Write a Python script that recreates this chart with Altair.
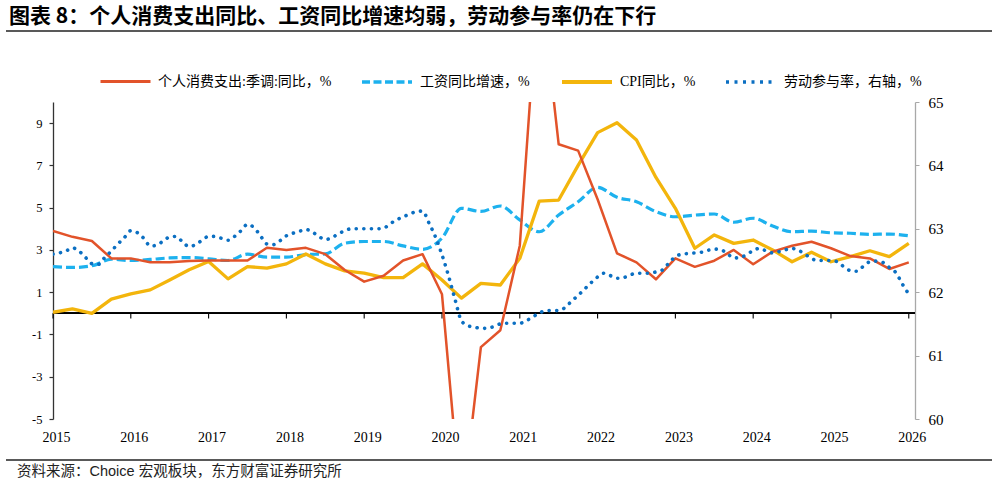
import altair as alt
import pandas as pd

# ---------------- data ----------------
quarter_dates = [f"{y}-{m:02d}" for y in range(2015, 2026) for m in (1, 4, 7, 10)] + ["2026-01"]
month_dates = [f"{y}-{m:02d}" for y in range(2015, 2026) for m in range(1, 13)] + ["2026-01"]

# 个人消费支出:季调:同比，%
pce_yoy = [3.90, 3.62, 3.42, 2.60, 2.60, 2.42, 2.42, 2.48, 2.50, 2.50,
           2.50, 3.10, 3.00, 3.10, 2.80, 2.05, 1.50, 1.78, 2.50, 2.80,
           0.90, -9.5, -1.6, -0.8, 3.2, 16.2, 8.0, 7.7, 5.4, 2.84,
           2.41, 1.61, 2.6, 2.2, 2.49, 3.0, 2.32, 2.92, 3.2, 3.39,
           3.08, 2.71, 2.6, 2.1, 2.41]

# 工资同比增速，%
wage_yoy = [2.21, 2.17, 2.25, 2.56, 2.50, 2.55, 2.62, 2.64, 2.58, 2.50,
            2.80, 2.66, 2.66, 2.78, 2.81, 3.32, 3.40, 3.40, 3.19, 3.03,
            3.56, 4.97, 4.82, 5.08, 4.42, 3.86, 4.65, 5.28, 5.96, 5.49,
            5.28, 4.81, 4.57, 4.65, 4.70, 4.31, 4.50, 4.13, 3.86, 3.89,
            3.81, 3.79, 3.74, 3.75, 3.67]

# CPI同比，%
cpi_yoy = [0.05, 0.21, 0.0, 0.67, 0.92, 1.11, 1.58, 2.06, 2.45, 1.63,
           2.21, 2.14, 2.34, 2.81, 2.34, 2.01, 1.90, 1.69, 1.69, 2.34,
           1.58, 0.72, 1.42, 1.34, 2.60, 5.31, 5.36, 7.0, 8.55, 9.02,
           8.2, 6.43, 4.97, 3.08, 3.71, 3.31, 3.47, 3.0, 2.44, 2.89,
           2.44, 2.68, 2.96, 2.68, 3.31]

# 劳动参与率（右轴），%
lfpr = [62.60, 62.62, 62.65, 62.70, 62.65, 62.55, 62.45, 62.44, 62.55, 62.65, 62.76, 62.86,
        62.97, 62.94, 62.85, 62.73, 62.74, 62.81, 62.87, 62.88, 62.79, 62.72, 62.75, 62.82,
        62.88, 62.88, 62.85, 62.82, 62.88, 62.97, 63.07, 63.02, 62.89, 62.76, 62.75, 62.81,
        62.89, 62.93, 62.96, 62.99, 62.95, 62.88, 62.83, 62.86, 62.92, 62.97, 63.00, 63.00,
        63.00, 63.00, 63.00, 63.01, 63.08, 63.14, 63.19, 63.23, 63.27, 63.28, 63.09, 62.87,
        62.59, 62.26, 61.89, 61.55, 61.47, 61.45, 61.43, 61.43, 61.46, 61.50, 61.51, 61.51,
        61.51, 61.55, 61.61, 61.67, 61.71, 61.71, 61.71, 61.76, 61.86, 61.95, 62.05, 62.15,
        62.24, 62.30, 62.26, 62.22, 62.23, 62.27, 62.30, 62.30, 62.30, 62.32, 62.35, 62.46,
        62.56, 62.60, 62.61, 62.62, 62.63, 62.66, 62.68, 62.67, 62.61, 62.54, 62.55, 62.59,
        62.66, 62.69, 62.65, 62.62, 62.64, 62.67, 62.69, 62.66, 62.60, 62.53, 62.50, 62.50,
        62.50, 62.48, 62.40, 62.34, 62.33, 62.41, 62.48, 62.49, 62.47, 62.39, 62.31, 62.13,
        61.97]

years = list(range(2015, 2027))
left_ticks = [-5, -3, -1, 1, 3, 5, 7, 9]
right_ticks = [60, 61, 62, 63, 64, 65]

series_names = ["个人消费支出:季调:同比，%", "工资同比增速，%", "CPI同比，%", "劳动参与率，右轴，%"]
series_colors = ["#E2532A", "#1DB1EE", "#F3B50C", "#0B6FC2"]

title_text = "图表 8：个人消费支出同比、工资同比增速均弱，劳动参与率仍在下行"
source_text = "资料来源：Choice 宏观板块，东方财富证券研究所"

# ---------------- layout ----------------
W, H = 862, 317
PAD_L, PAD_T, PAD_R, PAD_B = 53, 102, 82, 65

SERIF = "Liberation Serif, Times New Roman, Noto Sans CJK SC"
CJK = "Noto Sans CJK SC"


def to_year(s):
    y, m = s.split("-")
    return int(y) + (int(m) - 1) / 12


def frame(dates, values, name):
    return pd.DataFrame({"t": [to_year(d) for d in dates], "v": values, "s": name})


x_enc = alt.X(
    "t:Q",
    scale=alt.Scale(domain=[2015, 2026.08], nice=False, zero=False),
    axis=alt.Axis(values=years, format="d", domain=False, ticks=False, grid=False,
                  labelFont=SERIF, labelFontSize=14, labelColor="#000",
                  labelPadding=11, labelOffset=3, labelFlush=False,
                  labelOverlap=False, title=None),
)

left_scale = alt.Scale(domain=[-5, 10], nice=False, zero=False)
left_axis = alt.Axis(values=left_ticks, grid=False, domainColor="#333", domainWidth=1.3,
                     tickColor="#333", tickSize=4, tickWidth=1.2,
                     labelFont=SERIF, labelFontSize=12.5, labelColor="#000", labelPadding=7,
                     labelExpr="datum.value < 0 ? '-' + abs(datum.value) : '' + datum.value",
                     title=None)
right_scale = alt.Scale(domain=[60, 65], nice=False, zero=False)
right_axis = alt.Axis(orient="right", values=right_ticks, grid=False,
                      domainColor="#a8a8a8", domainWidth=1.3, tickColor="#a8a8a8",
                      tickSize=4, labelFont=SERIF, labelFontSize=15, labelColor="#000",
                      labelPadding=9, title=None)


def legend(i, x, dash=None, width=3.0):
    kw = dict(orient="none", legendX=x, legendY=-47, title=None, padding=0,
              symbolType="stroke", symbolSize=2500, symbolStrokeWidth=width,
              symbolStrokeColor=series_colors[i], labelFont=SERIF, labelFontSize=14,
              labelColor="#000", labelOffset=6, labelLimit=400)
    if dash is not None:
        kw["symbolDash"] = dash
    return alt.Legend(**kw)


def color_enc(i, lg):
    return alt.Color("s:N", scale=alt.Scale(domain=[series_names[i]], range=[series_colors[i]]),
                     legend=lg)


pce_line = alt.Chart(frame(quarter_dates, pce_yoy, series_names[0])).mark_line(
    strokeWidth=2.5, clip=True, strokeJoin="round"
).encode(x=x_enc, y=alt.Y("v:Q", scale=left_scale, axis=left_axis),
         color=color_enc(0, legend(0, 46, width=3.0)))

wage_line = alt.Chart(frame(quarter_dates, wage_yoy, series_names[1])).mark_line(
    strokeWidth=3.2, strokeDash=[9, 4], clip=True, interpolate="monotone"
).encode(x=x_enc, y=alt.Y("v:Q", scale=left_scale, axis=left_axis),
         color=color_enc(1, legend(1, 307, dash=[8, 3.5], width=3.5)))

cpi_line = alt.Chart(frame(quarter_dates, cpi_yoy, series_names[2])).mark_line(
    strokeWidth=3.3, clip=True, strokeJoin="round"
).encode(x=x_enc, y=alt.Y("v:Q", scale=left_scale, axis=left_axis),
         color=color_enc(2, legend(2, 507, width=3.8)))

# horizontal axis line at zero with year ticks hanging below it
zero_df = pd.DataFrame({"t": years, "y0": [0] * len(years), "y1": [-0.24] * len(years)})
zero_line = alt.Chart(zero_df).mark_rule(color="#000", strokeWidth=1.3).encode(
    y=alt.Y("y0:Q", scale=left_scale, axis=left_axis))
year_ticks = alt.Chart(zero_df).mark_rule(color="#000", strokeWidth=1.1).encode(
    x=x_enc, y=alt.Y("y0:Q", scale=left_scale, axis=left_axis), y2="y1:Q")

left_group = alt.layer(zero_line, year_ticks, wage_line, cpi_line, pce_line).resolve_scale(
    color="independent")

lfpr_line = alt.Chart(frame(month_dates, lfpr, series_names[3])).mark_line(
    strokeWidth=3.6, strokeDash=[0.1, 7.5], strokeCap="round", clip=True, interpolate="monotone"
).encode(x=x_enc, y=alt.Y("v:Q", scale=right_scale, axis=right_axis),
         color=color_enc(3, legend(3, 671, dash=[3, 5.5], width=3.5)))

# heading, separators and source note
text_df = pd.DataFrame({"title": [title_text], "source": [source_text]})
title_mark = alt.Chart(text_df).mark_text(
    align="left", baseline="middle", font=CJK, fontSize=21, fontWeight="bold", color="#000"
).encode(text="title:N", x=alt.value(9 - PAD_L), y=alt.value(17 - PAD_T))
source_mark = alt.Chart(text_df).mark_text(
    align="left", baseline="middle", font="Liberation Sans, Noto Sans CJK SC", fontSize=14.5,
    color="#222"
).encode(text="source:N", x=alt.value(17 - PAD_L), y=alt.value(472 - PAD_T))
top_rule = alt.Chart(text_df).mark_rule(color="#222", strokeWidth=1.5).encode(
    x=alt.value(6 - PAD_L), x2=alt.value(992 - PAD_L), y=alt.value(31 - PAD_T))
bottom_rule = alt.Chart(text_df).mark_rule(color="#222", strokeWidth=1.5).encode(
    x=alt.value(6 - PAD_L), x2=alt.value(992 - PAD_L), y=alt.value(460 - PAD_T))

chart = alt.layer(
    left_group, lfpr_line, title_mark, source_mark, top_rule, bottom_rule
).resolve_scale(
    y="independent", color="independent"
).properties(
    width=W, height=H,
    padding={"left": PAD_L, "top": PAD_T, "right": PAD_R, "bottom": PAD_B},
    autosize=alt.AutoSizeParams(type="none"),
    background="#ffffff",
).configure_view(stroke=None)

chart.save("out.html", embed_options={"renderer": "svg", "actions": False})
